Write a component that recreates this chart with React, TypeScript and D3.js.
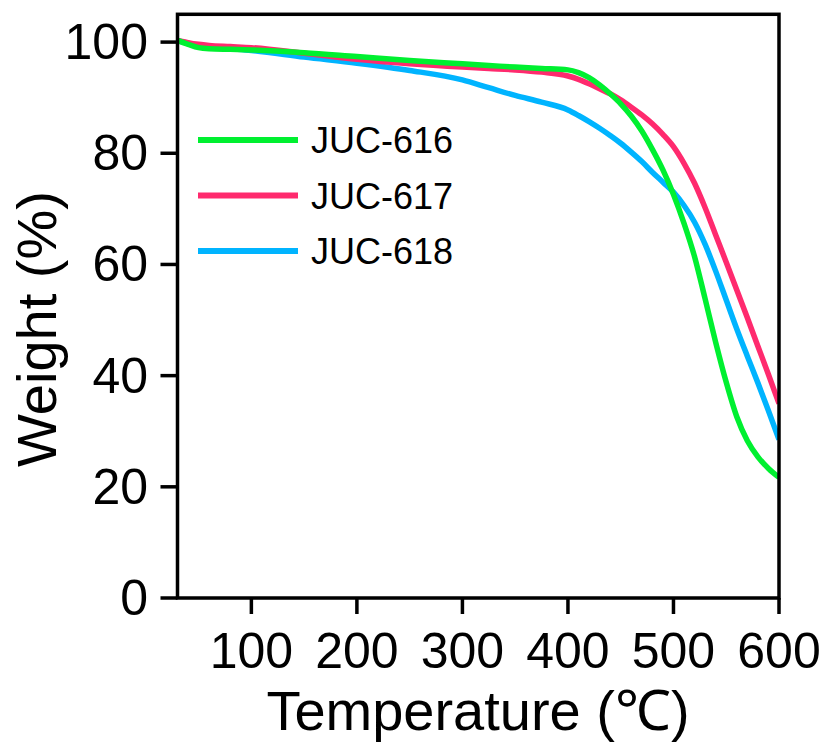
import React from "react";
import * as d3 from "d3";

const temps = [30, 40, 50, 60, 80, 100, 150, 200, 250, 300, 325, 350, 375, 400, 410, 420, 430, 440, 450, 460, 470, 480, 490, 500, 510, 520, 530, 540, 550, 560, 570, 580, 590, 600];
const juc616 = [100.3, 99.6, 99.0, 98.8, 98.7, 98.6, 98.1, 97.4, 96.7, 96.1, 95.8, 95.5, 95.25, 95.0, 94.5, 93.6, 92.3, 90.7, 88.9, 86.7, 84.0, 80.7, 77.0, 72.6, 67.4, 61.4, 53.8, 46.0, 38.8, 32.6, 28.3, 25.4, 23.3, 21.7];
const juc617 = [100.3, 99.9, 99.6, 99.4, 99.2, 99.0, 98.0, 96.9, 96.1, 95.5, 95.25, 95.0, 94.6, 93.9, 93.3, 92.5, 91.6, 90.7, 89.6, 88.3, 86.9, 85.3, 83.4, 81.2, 78.2, 74.6, 70.2, 65.3, 60.4, 55.4, 50.4, 45.3, 40.2, 35.0];
const juc618 = [100.3, 99.8, 99.4, 99.1, 98.8, 98.5, 97.3, 96.2, 94.9, 93.2, 91.8, 90.4, 89.2, 87.8, 86.8, 85.7, 84.5, 83.2, 81.8, 80.2, 78.5, 76.6, 74.8, 73.0, 70.6, 67.6, 63.6, 58.8, 53.6, 48.4, 43.5, 38.7, 33.7, 28.5];

const seriesNames = ["JUC-616", "JUC-617", "JUC-618"];
const seriesColors = ["#00f030", "#ff2a6e", "#00b4ff"];
const xTicks = [100, 200, 300, 400, 500, 600];
const yTicks = [0, 20, 40, 60, 80, 100];

export default function App() {
  const W = 828, H = 746;
  const left = 177.5, right = 779, top = 14.3, bottom = 598;
  const x = d3.scaleLinear().domain([30, 600]).range([left, right]);
  const y = d3.scaleLinear().domain([0, 105]).range([bottom, top]);
  const font = "Arial, 'Liberation Sans', sans-serif";
  const allSeries = [juc616, juc617, juc618];
  const line = (vals: number[]) =>
    d3.line<number>()
      .x((_, i) => x(temps[i]))
      .y((v) => y(v))
      .curve(d3.curveMonotoneX)(vals) || "";
  const drawOrder = [2, 1, 0];
  return (
    <svg width={W} height={H} style={{ position: "absolute", left: 0, top: 0, background: "#fff" }}>
      <defs>
        <clipPath id="plotclip">
          <rect x={left} y={top} width={right - left} height={bottom - top} />
        </clipPath>
      </defs>
      <g clipPath="url(#plotclip)">
        {drawOrder.map((k) => (
          <path key={k} d={line(allSeries[k])} fill="none" stroke={seriesColors[k]} strokeWidth={5.5} strokeLinejoin="round" />
        ))}
      </g>
      <rect x={left} y={top} width={right - left} height={bottom - top} fill="none" stroke="#000" strokeWidth={3.5} />
      {xTicks.map((t) => (
        <g key={t}>
          <line x1={x(t)} x2={x(t)} y1={bottom} y2={bottom + 16} stroke="#000" strokeWidth={3.5} />
          <text x={x(t)} y={668} textAnchor="middle" fontFamily={font} fontSize={50} fill="#000">{t}</text>
        </g>
      ))}
      {yTicks.map((t) => (
        <g key={t}>
          <line x1={left - 17} x2={left} y1={y(t)} y2={y(t)} stroke="#000" strokeWidth={3.5} />
          <text x={148} y={y(t) + 17} textAnchor="end" fontFamily={font} fontSize={50} fill="#000">{t}</text>
        </g>
      ))}
      <text x={478} y={730} textAnchor="middle" fontFamily={font} fontSize={56} fill="#000">Temperature (℃)</text>
      <text transform="translate(56,329) rotate(-90)" textAnchor="middle" fontFamily={font} fontSize={56} fill="#000">Weight (%)</text>
      {seriesNames.map((n, i) => {
        const ly = 140 + i * 55.5;
        return (
          <g key={n}>
            <line x1={198} x2={298} y1={ly} y2={ly} stroke={seriesColors[i]} strokeWidth={6} />
            <text x={311} y={ly + 13} fontFamily={font} fontSize={36} fill="#000">{n}</text>
          </g>
        );
      })}
    </svg>
  );
}
